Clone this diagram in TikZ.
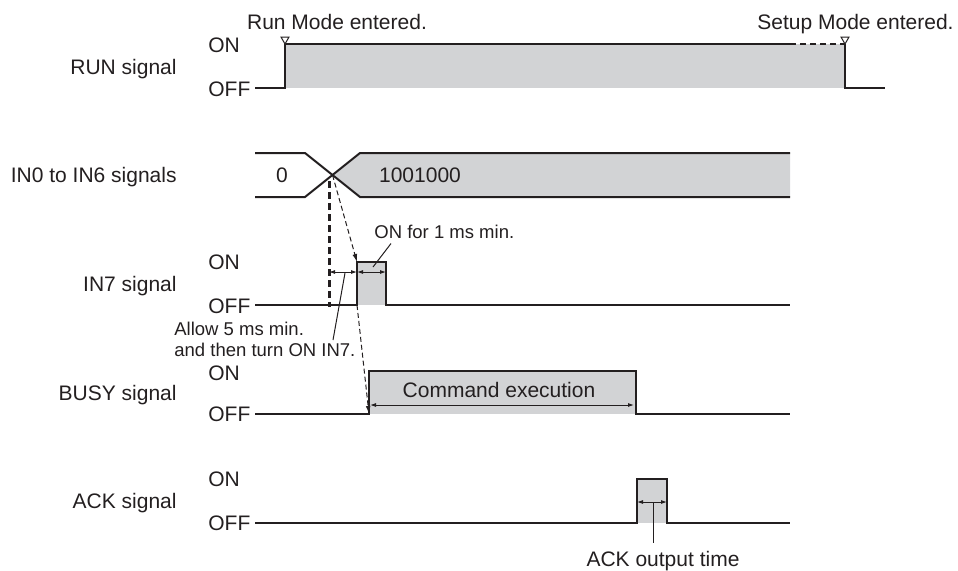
\documentclass[tikz,border=0pt]{standalone}
\usepackage{fontspec}
\setmainfont{Liberation Sans}
\usetikzlibrary{arrows.meta,positioning,calc}
\definecolor{ink}{RGB}{35,31,32}
\definecolor{hilevel}{RGB}{210,211,213}

\begin{document}
\begin{tikzpicture}[
    x=0.5pt, y=-0.5pt,
    wave/.style={line width=1pt, ink, line join=miter},
    lbl/.style={inner sep=0pt, text height=7.5pt, text depth=0pt, ink,
                font=\fontsize{10.5}{12.6}\selectfont},
    sig/.style={lbl, anchor=east},
    lvl/.style={lbl, anchor=west},
    note/.style={lbl, anchor=west, text height=6.6pt, font=\fontsize{9.25}{11}\selectfont},
    dim/.style={{Latex[length=3pt,width=2pt]}-{Latex[length=3pt,width=2pt]}, line width=0.45pt, ink},
    lead/.style={line width=0.5pt, ink},
    arr/.style={-{Latex[length=4pt,width=2.4pt]}, line width=0.5pt, ink, dash pattern=on 2.5pt off 1.5pt},
    modetick/.style={line width=0.5pt, ink, fill=white}
]
\useasboundingbox (0,0) rectangle (958,570);

\node[sig] (runL) at (177,66.5) {RUN signal};
\node[sig] (busL) at (177,175) {IN0 to IN6 signals};
\node[sig] (in7L) at (177,283.5) {IN7 signal};
\node[sig] (busyL) at (177,392.5) {BUSY signal};
\node[sig] (ackL) at (177,501) {ACK signal};
\foreach \hi/\lo/\nm in {45/88.5/run, 262/305.5/in7, 372.5/414/busy, 479/523/ack} {
  \node[lvl] (\nm on) at (208,\hi) {ON};
  \node[lvl] (\nm off) at (208,\lo) {OFF};
}

% RUN
\fill[hilevel] (285,44) rectangle (845,88);
\draw[wave] (255,88) -- (285,88) -- (285,44) -- (790,44);
\draw[wave, dash pattern=on 3pt off 2pt] (790,44) -- (845,44);
\draw[wave] (845,44) -- (845,88) -- (885,88);
\draw[modetick] (281,37) -- (289,37) -- (285,44) -- cycle;
\draw[modetick] (841,37) -- (849,37) -- (845,44) -- cycle;
\node[lbl] (runmode) at (337,21.5) {Run Mode entered.};
\node[lbl] (setupmode) at (855.5,21.5) {Setup Mode entered.};

% IN0 to IN6
\coordinate (xing) at (332.5,175);
\fill[hilevel] (xing) -- (360,153) -- (790,153) -- (790,197) -- (360,197) -- cycle;
\draw[wave] (255,153) -- (305,153) -- (360,197) -- (790,197);
\draw[wave] (255,197) -- (305,197) -- (360,153) -- (790,153);
\node[lbl] (oldval) at (282,175) {0};
\node[lbl] (newval) at (420,175) {1001000};

% IN7
\coordinate (in7up) at (357,262);
\coordinate (in7base) at (357,305);
\fill[hilevel] (357,262) rectangle (386,305);
\draw[wave] (255,305) -- (in7base) -- (in7up) -- (386,262) -- (386,305) -- (790,305);
\draw[ink, line width=1.5pt, dash pattern=on 3.5pt off 2pt] (329,181) -- (329,307);
\draw[arr] (xing) -- (in7up);
\draw[dim] (329,272) -- (357,272);
\draw[dim] (357,272) -- (386,272);
\node[note] (onfor) at (374,231.5) {ON for 1 ms min.};
\coordinate (onforend) at (373,267);
\draw[lead] ($(onfor.south west)+(17,5)$) -- (onforend);
\node[note] (allow1) at (174,329) {Allow 5 ms min.};
\node[note] (allow2) at (174,350) {and then turn ON IN7.};
\coordinate (allowtop) at (345,273);
\draw[lead] (allowtop) -- (333,340);

% BUSY
\coordinate (busybase) at (369,414);
\fill[hilevel] (369,371) rectangle (636,414);
\draw[wave] (255,414) -- (busybase) -- (369,371) -- (636,371) -- (636,414) -- (790,414);
\draw[arr] (in7base) -- (busybase);
\node[lbl] (cmdexec) at (499,390) {Command execution};
\draw[dim] (370,405) -- (634,405);

% ACK
\fill[hilevel] (637,479) rectangle (667,523);
\draw[wave] (255,523) -- (637,523) -- (637,479) -- (667,479) -- (667,523) -- (790,523);
\draw[dim] (637,502) -- (667,502);
\node[lbl] (acktime) at (663,558.5) {ACK output time};
\coordinate (ackmid) at (653,502);
\draw[lead] (ackmid) -- (653,543);
\end{tikzpicture}
\end{document}
